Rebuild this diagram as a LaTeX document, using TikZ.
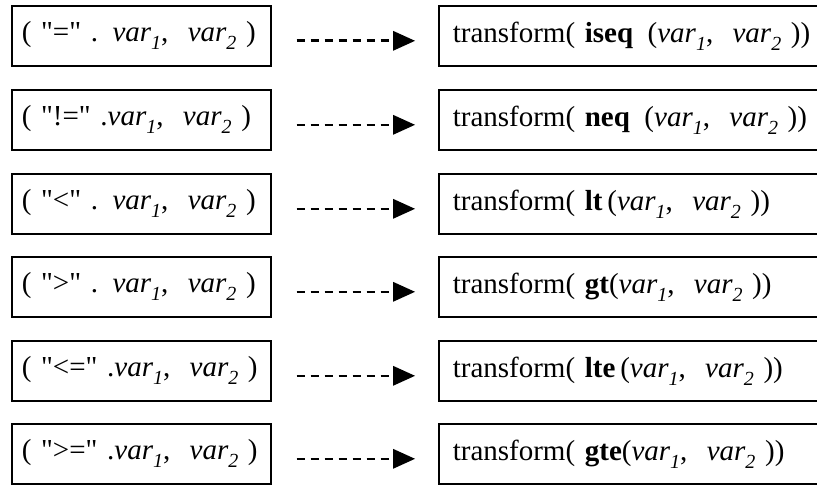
\documentclass[tikz,border=0pt]{standalone}
\usepackage{fontspec}
\setmainfont{Liberation Serif}
\usetikzlibrary{arrows.meta}
\newcommand{\vr}[1]{{\itshape var}\raisebox{-0.6ex}{\fontsize{20}{20}\selectfont\itshape #1}}
\newcommand{\qq}[1]{\textquotedbl#1\textquotedbl}
\tikzset{
  lbox/.style={draw, line width=1.6pt, anchor=north west, minimum width=259pt, minimum height=60pt,
    text width=239pt, inner xsep=10pt, align=left, font=\fontsize{29}{32}\selectfont},
  rbox/.style={draw, line width=1.6pt, anchor=north west, minimum width=420pt, minimum height=60pt,
    text width=392pt, inner xsep=14pt, align=left, font=\fontsize{29}{32}\selectfont},
  arr/.style={line width=2.6pt, dash pattern=on 8pt off 6pt, -{Triangle[length=22pt,width=20pt,line width=0pt]},
    shorten <=25pt, shorten >=23pt}
}
\begin{document}
\begin{tikzpicture}[x=1pt,y=-1pt]
\clip (0,0) rectangle (817,487);
\fill[white] (0,0) rectangle (817,487);
\node[lbox] (L1) at (11,5)     {( \qq{=} . \vr{1},\ \ \vr{2} )};
\node[lbox] (L2) at (11,89)    {( \qq{!=} .\vr{1},\ \ \vr{2} )};
\node[lbox] (L3) at (11,173)   {( \qq{<} . \vr{1},\ \ \vr{2} )};
\node[lbox] (L4) at (11,256)   {( \qq{>} . \vr{1},\ \ \vr{2} )};
\node[lbox] (L5) at (11,340)   {( \qq{<=} .\vr{1},\ \ \vr{2} )};
\node[lbox] (L6) at (11,423)   {( \qq{>=} .\vr{1},\ \ \vr{2} )};
\node[rbox] (R1) at (438,5)    {transform(\ \textbf{iseq}\ \,(\vr{1},\ \ \vr{2} ))};
\node[rbox] (R2) at (438,89)   {transform(\ \textbf{neq}\ \,(\vr{1},\ \ \vr{2} ))};
\node[rbox] (R3) at (438,173)  {transform(\ \textbf{lt}\,(\vr{1},\ \ \vr{2} ))};
\node[rbox] (R4) at (438,256)  {transform(\ \textbf{gt}(\vr{1},\ \ \vr{2} ))};
\node[rbox] (R5) at (438,340)  {transform(\ \textbf{lte}\,(\vr{1},\ \ \vr{2} ))};
\node[rbox] (R6) at (438,423)  {transform(\ \textbf{gte}(\vr{1},\ \ \vr{2} ))};
\foreach \i in {1,...,6}{
  \draw[arr] ([yshift=-5pt]L\i.east) -- ([yshift=-5pt]R\i.west);
}
\end{tikzpicture}
\end{document}
